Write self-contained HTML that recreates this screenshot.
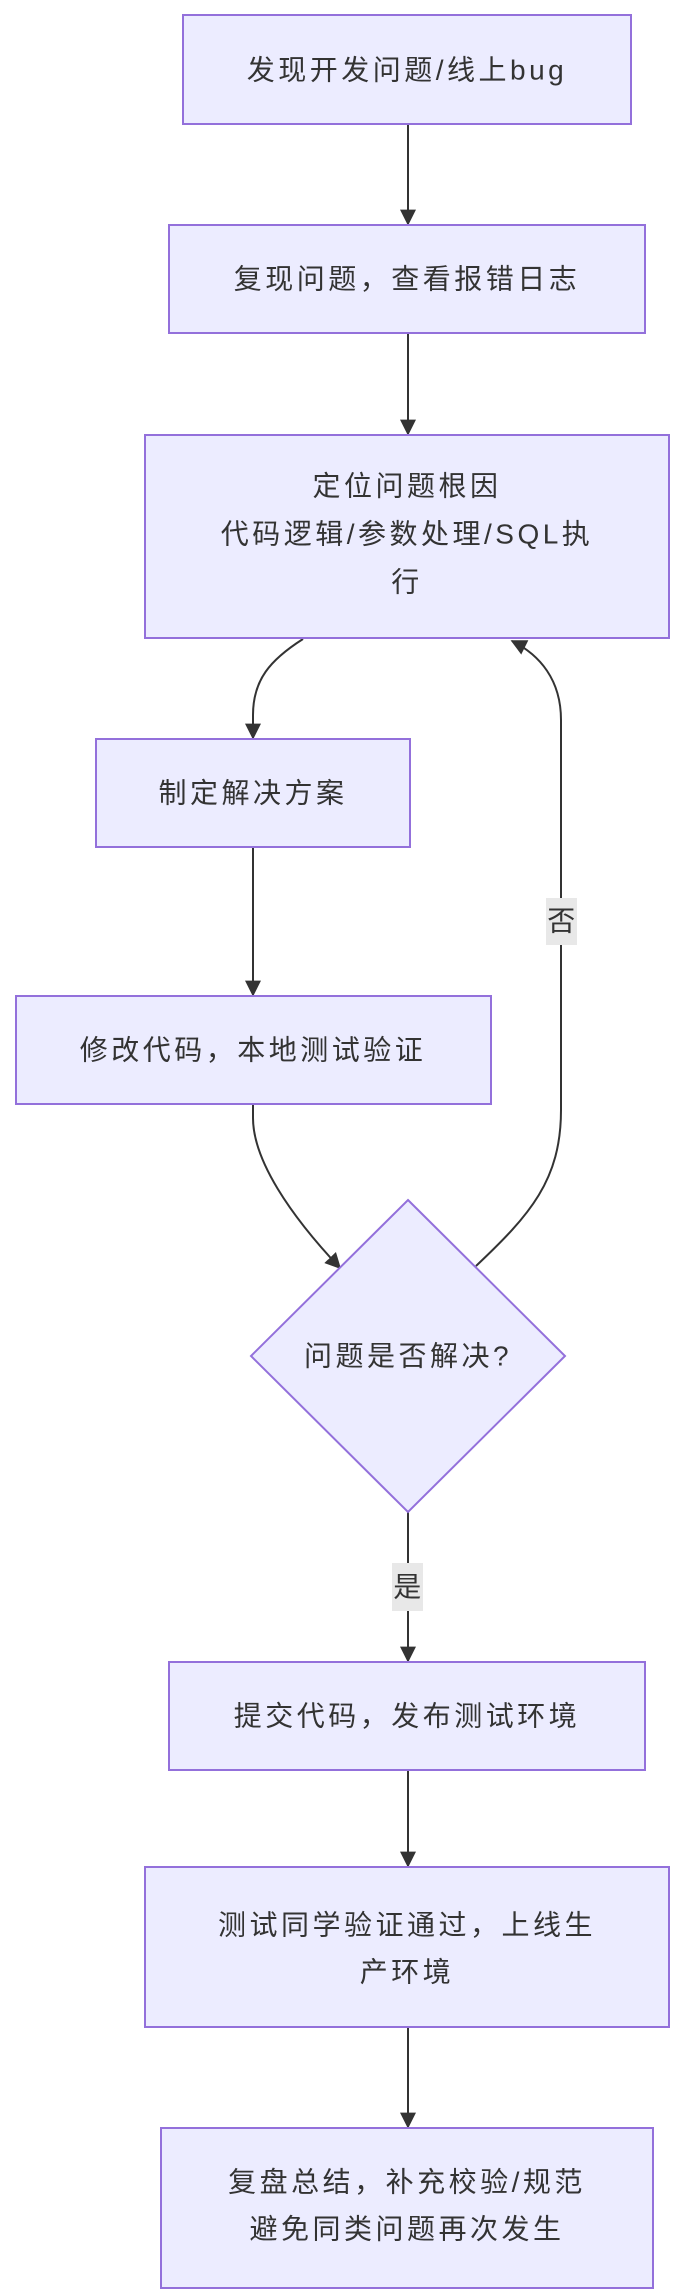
<!DOCTYPE html>
<html><head><meta charset="utf-8"><style>
html,body{margin:0;padding:0;background:#fff;}
svg{display:block;}
text{font-family:"Liberation Sans","Noto Sans CJK SC",sans-serif;font-size:28px;fill:#333;letter-spacing:3.5px;text-anchor:middle;dominant-baseline:central;}
.n{fill:#ECECFF;stroke:#9370DB;stroke-width:2;}
.e{fill:none;stroke:#333;stroke-width:2;}
</style></head><body>
<svg width="681" height="2295" viewBox="0 0 681 2295" xmlns="http://www.w3.org/2000/svg">
<defs><marker id="a" viewBox="0 0 10 10" refX="9" refY="5" markerWidth="8" markerHeight="8" markerUnits="userSpaceOnUse" orient="auto"><path d="M0,0L10,5L0,10z" fill="#333"/></marker>
<marker id="b" viewBox="0 0 10 10" refX="9" refY="5" markerWidth="16" markerHeight="16" markerUnits="userSpaceOnUse" orient="auto"><path d="M0,0L10,5L0,10z" fill="#333"/></marker></defs>

<!-- edges -->
<path class="e" d="M408,124 L408,224" marker-end="url(#b)"/>
<path class="e" d="M408,333 L408,434" marker-end="url(#b)"/>
<path class="e" d="M303,639 C270,660 253,680 253,715 L253,738" marker-end="url(#b)"/>
<path class="e" d="M253,847 L253,995" marker-end="url(#b)"/>
<path class="e" d="M253,1104 L253,1118 C253,1160 290,1215 340,1268" marker-end="url(#b)"/>
<path class="e" d="M476,1266 C530,1215 561,1180 561,1110 L561,720 C561,680 540,655 512,641" marker-end="url(#b)"/>
<path class="e" d="M408,1512 L408,1661" marker-end="url(#b)"/>
<path class="e" d="M408,1770 L408,1866" marker-end="url(#b)"/>
<path class="e" d="M408,2027 L408,2127" marker-end="url(#b)"/>

<!-- nodes -->
<rect class="n" x="183" y="15" width="448" height="109"/>
<text x="407" y="70">发现开发问题/线上bug</text>
<rect class="n" x="169" y="225" width="476" height="108"/>
<text x="407" y="279">复现问题，查看报错日志</text>
<rect class="n" x="145" y="435" width="524" height="203"/>
<text x="407" y="486">定位问题根因</text>
<text x="407" y="534">代码逻辑/参数处理/SQL执</text>
<text x="407" y="582">行</text>
<rect class="n" x="96" y="739" width="314" height="108"/>
<text x="253" y="793">制定解决方案</text>
<rect class="n" x="16" y="996" width="475" height="108"/>
<text x="253" y="1050">修改代码，本地测试验证</text>
<polygon class="n" points="408,1200 565,1356 408,1512 251,1356"/>
<text x="408" y="1356">问题是否解决?</text>
<rect class="n" x="169" y="1662" width="476" height="108"/>
<text x="407" y="1716">提交代码，发布测试环境</text>
<rect class="n" x="145" y="1867" width="524" height="160"/>
<text x="407" y="1925">测试同学验证通过，上线生</text>
<text x="407" y="1972">产环境</text>
<rect class="n" x="161" y="2128" width="492" height="160"/>
<text x="407" y="2182">复盘总结，补充校验/规范</text>
<text x="407" y="2229">避免同类问题再次发生</text>

<!-- labels -->
<rect x="546" y="898" width="31" height="47" fill="#e8e8e8"/>
<text x="563" y="921">否</text>
<rect x="392" y="1563" width="31" height="48" fill="#e8e8e8"/>
<text x="409" y="1587">是</text>
</svg>
</body></html>
